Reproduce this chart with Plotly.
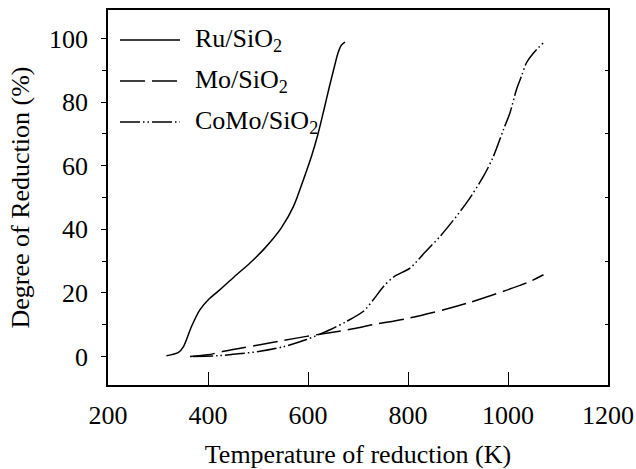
import plotly.graph_objects as go

# Data
ru_T = [317, 341, 351, 367, 384, 401, 424, 457, 484, 511, 530, 547, 571, 591, 607, 620, 632, 643, 653, 660, 667, 674]
ru_v = [0.2, 1.3, 3.1, 9.4, 14.7, 17.9, 21.0, 25.7, 29.4, 33.6, 37.0, 40.5, 47.2, 55.7, 63.0, 70.0, 77.7, 85.0, 91.3, 95.5, 98.0, 98.9]

mo_T = [364, 400, 431, 470, 504, 550, 597, 650, 690, 731, 804, 877, 924, 991, 1044, 1071]
mo_v = [0.0, 0.5, 1.6, 2.7, 3.7, 5.0, 6.3, 7.6, 8.7, 10.0, 12.1, 14.9, 17.0, 20.5, 23.6, 25.7]

como_T = [370, 420, 460, 504, 550, 597, 644, 677, 711, 731, 751, 773, 804, 833, 867,
          917, 951, 971, 991, 1004, 1017, 1027, 1037, 1051, 1071]
como_v = [0.0, 0.2, 0.8, 1.6, 3.0, 5.3, 8.4, 11.0, 14.2, 17.9, 22.0, 25.2, 27.8, 32.6, 38.3,
          48.3, 56.7, 63.0, 71.4, 76.7, 84.0, 88.2, 92.4, 95.5, 98.7]

series_names = ["Ru/SiO<sub>2</sub>", "Mo/SiO<sub>2</sub>", "CoMo/SiO<sub>2</sub>"]
x_ticks = [200, 400, 600, 800, 1000, 1200]
y_ticks = [0, 20, 40, 60, 80, 100]

FONT = "Liberation Serif, Times New Roman, serif"
FS = 26
dashes = ["solid", "25px,7px", "20px,3px,1.5px,3px,1.5px,3px"]

fig = go.Figure()
for (T, v, d, n) in [(ru_T, ru_v, dashes[0], series_names[0]),
                     (mo_T, mo_v, dashes[1], series_names[1]),
                     (como_T, como_v, dashes[2], series_names[2])]:
    fig.add_trace(go.Scatter(x=T, y=v, mode="lines", name=n, showlegend=False,
                             line=dict(color="black", width=1.5, dash=d, shape="spline", smoothing=0.8)))

# dummy trace to activate right-side axis
fig.add_trace(go.Scatter(x=[None], y=[None], yaxis="y2", showlegend=False))

# manual legend
leg_y = [40, 81, 122]
for i in range(3):
    yp = (385 - leg_y[i]) / 375
    fig.add_shape(type="line", xref="paper", yref="paper",
                  x0=(120 - 108) / 500, x1=(180 - 108) / 500, y0=yp, y1=yp,
                  line=dict(color="black", width=1.5, dash=dashes[i]))
    fig.add_annotation(xref="paper", yref="paper", x=(193 - 108) / 500, y=yp,
                       text=series_names[i], showarrow=False, xanchor="left", yanchor="middle",
                       font=dict(family=FONT, size=FS, color="black"))

fig.update_layout(
    width=636, height=469,
    margin=dict(l=108, r=28, t=10, b=84),
    paper_bgcolor="white", plot_bgcolor="white",
    font=dict(family=FONT, size=FS, color="black"),
    xaxis=dict(range=[200, 1200], tickvals=x_ticks, ticks="inside", ticklen=13, tickwidth=1.2,
               tickcolor="black", showline=True, linecolor="black", linewidth=1.5, mirror=True,
               showgrid=False, zeroline=False, ticklabelstandoff=6, automargin=False,
               title=dict(text="Temperature of reduction (K)", standoff=16,
                          font=dict(family=FONT, size=FS))),
    yaxis=dict(range=[-9, 109], tickvals=y_ticks, ticks="outside", ticklen=5, tickwidth=1.2,
               tickcolor="black", showline=True, linecolor="black", linewidth=1.5, mirror=True,
               showgrid=False, zeroline=False, ticklabelstandoff=8, automargin=False,
               minor=dict(tickvals=[10, 30, 50, 70, 90], ticks="outside", ticklen=4,
                          tickcolor="black", tickwidth=1.2, showgrid=False),
               title=dict(text="Degree of Reduction (%)", standoff=12,
                          font=dict(family=FONT, size=FS))),
    yaxis2=dict(range=[-9, 109], overlaying="y", side="right", tickvals=[10, 30, 50, 70, 90],
                ticks="inside", ticklen=3, tickwidth=1.2, tickcolor="black", automargin=False,
                showticklabels=False, showgrid=False, zeroline=False, showline=False),
)

fig.write_html("out.html")
